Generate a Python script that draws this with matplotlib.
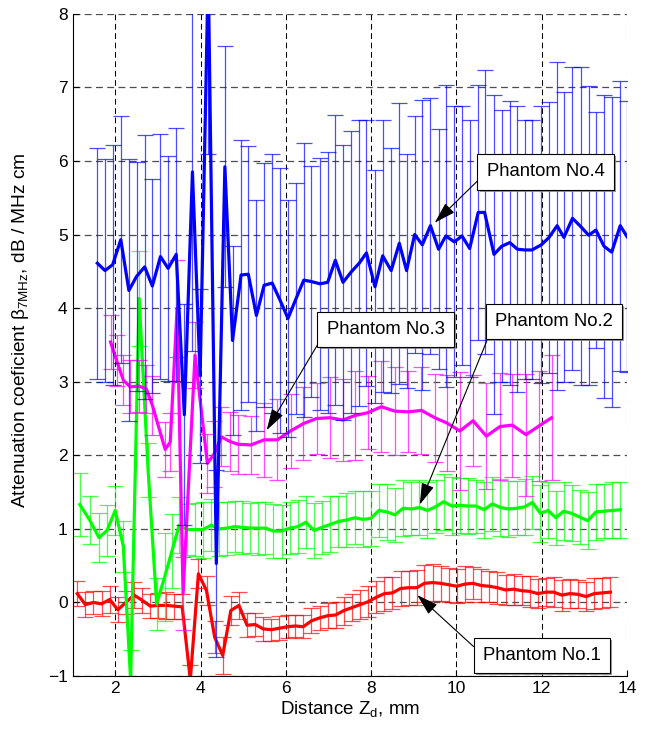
import matplotlib
matplotlib.use('Agg')
import matplotlib.pyplot as plt
from matplotlib import patheffects

plt.rcParams['font.family'] = ['Liberation Sans', 'DejaVu Sans']
plt.rcParams['mathtext.fontset'] = 'custom'
plt.rcParams['mathtext.rm'] = 'Liberation Sans'
plt.rcParams['mathtext.it'] = 'Liberation Sans:italic'

# Phantom No.1 (red)
x1 = [1.11, 1.30, 1.49, 1.68, 1.87, 2.06, 2.25, 2.44, 2.63, 2.82,
      3.01, 3.19, 3.38, 3.57, 3.76, 3.95, 4.14, 4.33, 4.52, 4.71,
      4.90, 5.09, 5.28, 5.47, 5.66, 5.85, 6.04, 6.22, 6.41, 6.60,
      6.79, 6.98, 7.17, 7.36, 7.55, 7.74, 7.93, 8.12, 8.31, 8.50,
      8.69, 8.88, 9.07, 9.25, 9.44, 9.63, 9.82, 10.01, 10.20, 10.39,
      10.58, 10.77, 10.96, 11.15, 11.34, 11.53, 11.72, 11.91, 12.10, 12.28,
      12.47, 12.66, 12.85, 13.04, 13.23, 13.42, 13.61]
y1 = [0.12, -0.03, 0.00, -0.02, 0.04, -0.10, 0.00, 0.10, 0.03, -0.05,
      -0.04, -0.04, -0.05, -0.06, -1.05, 0.39, 0.16, -0.47, -0.72, -0.11,
      -0.04, -0.31, -0.30, -0.36, -0.37, -0.35, -0.33, -0.32, -0.33, -0.25,
      -0.21, -0.18, -0.17, -0.11, -0.07, -0.03, 0.01, 0.07, 0.12, 0.13,
      0.19, 0.20, 0.20, 0.26, 0.27, 0.26, 0.24, 0.22, 0.25, 0.26,
      0.23, 0.22, 0.20, 0.17, 0.18, 0.16, 0.15, 0.12, 0.14, 0.14,
      0.10, 0.12, 0.11, 0.08, 0.12, 0.13, 0.14]
e1 = [0.17, 0.17, 0.16, 0.17, 0.18, 0.17, 0.16, 0.18, 0.17, 0.16,
      0.17, 0.18, 0.17, 0.17, 0.20, 0.20, 0.20, 0.22, 0.25, 0.20,
      0.18, 0.16, 0.15, 0.16, 0.15, 0.16, 0.16, 0.15, 0.16, 0.17,
      0.16, 0.17, 0.18, 0.19, 0.18, 0.20, 0.21, 0.22, 0.23, 0.22,
      0.24, 0.23, 0.24, 0.25, 0.25, 0.24, 0.23, 0.23, 0.24, 0.22,
      0.22, 0.21, 0.22, 0.20, 0.21, 0.20, 0.21, 0.20, 0.19, 0.20,
      0.21, 0.20, 0.19, 0.20, 0.21, 0.20, 0.20]

# Phantom No.2 (green)
x2 = [1.17, 1.40, 1.62, 1.81, 2.00, 2.19, 2.36, 2.56, 2.77, 2.97,
      3.16, 3.33, 3.50, 3.68, 3.87, 4.06, 4.25, 4.44, 4.62, 4.80,
      4.98, 5.16, 5.34, 5.52, 5.71, 5.90, 6.09, 6.28, 6.47, 6.66,
      6.85, 7.04, 7.23, 7.42, 7.61, 7.80, 7.99, 8.18, 8.37, 8.56,
      8.75, 8.94, 9.13, 9.32, 9.51, 9.70, 9.89, 10.08, 10.27, 10.46,
      10.65, 10.84, 11.03, 11.22, 11.41, 11.60, 11.78, 11.97, 12.15, 12.33,
      12.51, 12.70, 12.89, 13.08, 13.27, 13.46, 13.65, 13.84]
y2 = [1.33, 1.12, 0.88, 0.98, 1.25, 0.76, -1.05, 4.13, 1.80, -0.02,
      0.35, 0.70, 1.05, 0.99, 0.99, 0.99, 1.05, 1.00, 1.01, 1.03,
      1.02, 1.01, 1.01, 1.01, 0.97, 0.97, 1.01, 1.03, 1.09, 0.98,
      1.02, 1.06, 1.10, 1.12, 1.15, 1.13, 1.14, 1.25, 1.23, 1.19,
      1.28, 1.27, 1.29, 1.25, 1.30, 1.37, 1.31, 1.32, 1.31, 1.31,
      1.26, 1.34, 1.29, 1.27, 1.28, 1.30, 1.36, 1.21, 1.25, 1.15,
      1.24, 1.21, 1.16, 1.11, 1.23, 1.24, 1.25, 1.26]
e2 = [0.43, 0.33, 0.33, 0.35, 0.33, 0.35, 0.40, 0.65, 0.37, 0.35,
      0.60, 0.50, 0.38, 0.35, 0.36, 0.38, 0.35, 0.37, 0.36, 0.35,
      0.36, 0.34, 0.36, 0.35, 0.37, 0.36, 0.35, 0.36, 0.35, 0.37,
      0.36, 0.38, 0.35, 0.37, 0.36, 0.38, 0.37, 0.36, 0.38, 0.37,
      0.38, 0.36, 0.37, 0.38, 0.36, 0.38, 0.39, 0.37, 0.38, 0.36,
      0.38, 0.37, 0.39, 0.38, 0.37, 0.38, 0.36, 0.39, 0.38, 0.37,
      0.39, 0.38, 0.37, 0.39, 0.38, 0.37, 0.38, 0.38]

# Phantom No.3 (magenta)
x3 = [1.89, 2.03, 2.19, 2.35, 2.56, 2.73, 2.87, 3.17, 3.29, 3.45,
      3.59, 3.87, 4.16, 4.32, 4.49, 4.68, 4.87, 5.18, 5.49, 5.80,
      6.11, 6.41, 6.72, 7.03, 7.34, 7.62, 7.93, 8.24, 8.55, 8.87,
      9.18, 9.49, 9.77, 10.08, 10.39, 10.70, 11.02, 11.31, 11.63, 11.94,
      12.23]
y3 = [3.54, 3.29, 3.02, 2.93, 2.94, 2.90, 2.68, 2.08, 2.18, 4.00,
      0.12, 3.36, 1.89, 2.02, 2.25, 2.19, 2.15, 2.14, 2.21, 2.21,
      2.33, 2.43, 2.50, 2.51, 2.48, 2.54, 2.58, 2.66, 2.60, 2.59,
      2.61, 2.51, 2.44, 2.33, 2.47, 2.26, 2.39, 2.41, 2.28, 2.40,
      2.51]
e3 = [0.37, 0.35, 0.34, 0.36, 0.35, 0.33, 0.40, 0.37, 0.40, 0.66,
      0.50, 0.45, 0.40, 0.45, 0.40, 0.40, 0.40, 0.39, 0.50, 0.55,
      0.50, 0.50, 0.48, 0.55, 0.56, 0.60, 0.50, 0.62, 0.60, 0.55,
      0.59, 0.60, 0.65, 0.80, 0.62, 0.72, 0.73, 0.70, 0.83, 0.75,
      0.85]

# Phantom No.4 (blue)
x4 = [1.58, 1.76, 1.94, 2.13, 2.32, 2.50, 2.69, 2.87, 3.06, 3.24,
      3.43, 3.62, 3.81, 3.99, 4.18, 4.37, 4.57, 4.75, 4.95, 5.12,
      5.31, 5.49, 5.68, 5.87, 6.05, 6.24, 6.42, 6.60, 6.80, 6.98,
      7.16, 7.34, 7.53, 7.72, 7.89, 8.09, 8.27, 8.47, 8.66, 8.83,
      9.02, 9.20, 9.39, 9.58, 9.75, 9.95, 10.13, 10.31, 10.51, 10.66,
      10.88, 11.06, 11.25, 11.43, 11.60, 11.77, 11.99, 12.17, 12.36, 12.52,
      12.72, 12.91, 13.10, 13.27, 13.46, 13.64, 13.84, 14.00]
y4 = [4.61, 4.51, 4.59, 4.93, 4.24, 4.43, 4.56, 4.30, 4.70, 4.54,
      4.73, 2.55, 5.85, 3.08, 8.60, 0.53, 5.92, 3.56, 4.45, 4.46,
      3.90, 4.31, 4.34, 4.10, 3.86, 4.13, 4.38, 4.36, 4.33, 4.35,
      4.65, 4.35, 4.49, 4.61, 4.75, 4.29, 4.71, 4.51, 4.88, 4.51,
      5.00, 4.86, 5.12, 4.80, 4.98, 4.90, 4.98, 4.81, 5.30, 5.30,
      4.73, 4.84, 4.89, 4.80, 4.79, 4.79, 4.86, 4.96, 5.12, 4.96,
      5.22, 5.11, 4.99, 5.06, 4.84, 4.76, 5.12, 4.97]
e4 = [1.57, 1.51, 1.63, 1.68, 1.78, 1.56, 1.79, 1.45, 1.67, 1.53,
      1.72, 1.50, 2.43, 1.18, 2.50, 1.27, 1.64, 1.28, 1.84, 1.74,
      1.57, 1.66, 1.76, 1.80, 1.61, 1.57, 1.86, 1.57, 1.71, 1.77,
      1.97, 1.87, 1.92, 1.94, 1.81, 1.58, 1.85, 1.66, 1.91, 1.59,
      1.61, 1.97, 1.74, 1.63, 2.05, 1.84, 1.76, 1.74, 1.73, 1.93,
      2.17, 1.85, 1.93, 1.94, 1.76, 1.76, 1.88, 1.84, 2.23, 1.97,
      2.06, 2.16, 2.03, 1.60, 2.06, 2.11, 1.97, 1.84]

fig = plt.figure(figsize=(6.47, 7.31), dpi=100)
ax = fig.add_axes([0.1122, 0.0752, 0.857, 0.906])


def draw(x, y, err, col):
    ax.errorbar(x, y, yerr=err, fmt='none', ecolor=col, elinewidth=0.9,
                capsize=6, capthick=0.9, alpha=0.7)
    ax.plot(x, y, color=col, lw=2.3)


draw(x1, y1, e1, '#ff0000')
draw(x2, y2, e2, '#00ff00')
draw(x3, y3, e3, '#ff00ff')
draw(x4, y4, e4, '#0000ff')

ax.set_xlim(1, 14)
ax.set_ylim(-1, 8)
ax.set_xticks([2, 4, 6, 8, 10, 12, 14])
ax.set_yticks(range(-1, 9))
ax.xaxis.grid(True, color='k', ls=(0, (5.5, 3.5)), lw=0.75)
ax.yaxis.grid(True, color='0.3', ls=(0, (5.5, 3.5)), lw=0.9)
ax.spines['top'].set_visible(False)
ax.spines['right'].set_visible(False)
ax.tick_params(direction='in', length=4, labelsize=12.5)

ax.set_xlabel(r'Distance Z$_{\mathrm{d}}$, mm', fontsize=13.5, labelpad=2)
ax.set_ylabel(r'Attenuation coeficient β$_{\mathrm{7MHz}}$, dB / MHz cm',
              fontsize=13.8)
ax.yaxis.set_label_coords(-0.075, 0.523)

shadow = [patheffects.SimplePatchShadow(offset=(1.5, -1.5), shadow_rgbFace='0.5', alpha=0.8),
          patheffects.Normal()]


def label(text, xy, xytext):
    ann = ax.annotate(text, xy=xy, xytext=xytext, fontsize=13.3, ha='center', va='center',
                      bbox=dict(boxstyle='square,pad=0.5', fc='white', ec='k', lw=0.8),
                      arrowprops=dict(arrowstyle='-|>,head_length=1.0,head_width=0.3',
                                      color='k', lw=0.8, shrinkA=0, shrinkB=0,
                                      relpos=(0, 0.5)),
                      zorder=10)
    ann.get_bbox_patch().set_path_effects(shadow)


label('Phantom No.4', (9.49, 5.16), (12.09, 5.85))
label('Phantom No.3', (5.55, 2.34), (8.34, 3.71))
label('Phantom No.2', (9.14, 1.33), (12.28, 3.82))
label('Phantom No.1', (9.08, 0.10), (12.01, -0.72))

fig.savefig('out.png', dpi=100)
